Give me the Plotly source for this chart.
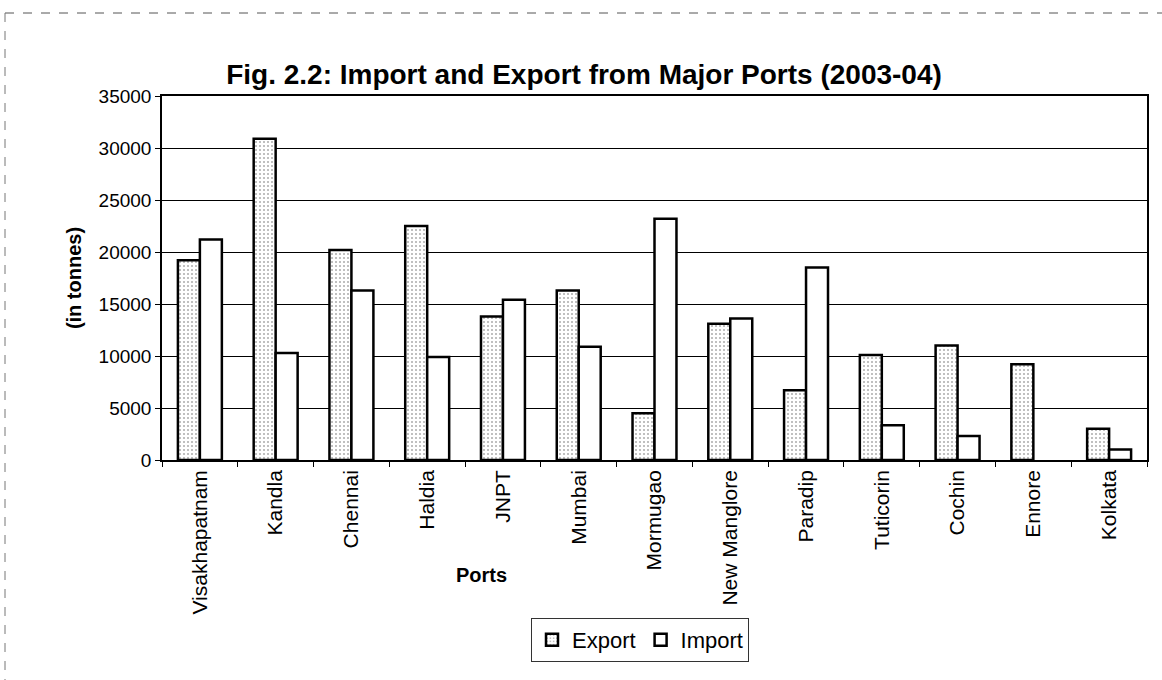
import plotly.graph_objects as go

# Cargo handled at the major ports, 2003-04 (in tonnes)
ports = ["Visakhapatnam", "Kandla", "Chennai", "Haldia", "JNPT", "Mumbai",
         "Mormugao", "New Manglore", "Paradip", "Tuticorin", "Cochin",
         "Ennore", "Kolkata"]
export_vals = [19200, 30900, 20200, 22500, 13800, 16300,
               4500, 13100, 6700, 10100, 11000, 9200, 3000]
# Ennore has no import bar
import_vals = [21200, 10300, 16300, 9900, 15400, 10900,
               23200, 13600, 18500, 3350, 2300, None, 1000]
y_ticks = [0, 5000, 10000, 15000, 20000, 25000, 30000, 35000]
y_tick_text = [str(v) for v in y_ticks]

FONT = "Liberation Sans, Arial, sans-serif"

# plot-area geometry in pixels (used to place the frame, legend and labels)
W, H = 1162, 680
L, R, T, B = 162, 1147, 96, 460


def px_x(px):
    return (px - L) / (R - L)


def px_y(py):
    return (B - py) / (B - T)


fig = go.Figure()
fig.add_trace(go.Bar(
    name="Export", x=ports, y=export_vals,
    marker=dict(color="white",
                line=dict(color="black", width=2.5),
                pattern=dict(shape=".", fgcolor="#555", bgcolor="white",
                             size=4, solidity=0.2, fgopacity=0.5)),
))
fig.add_trace(go.Bar(
    name="Import", x=ports, y=import_vals,
    marker=dict(color="white", line=dict(color="black", width=2.5)),
))

fig.update_layout(
    width=W, height=H,
    margin=dict(l=L, r=W - R, t=T, b=H - B),
    paper_bgcolor="white", plot_bgcolor="white",
    barmode="group", bargap=0.42, bargroupgap=0,
    font=dict(family=FONT, color="black", size=19),
    title=dict(text="<b>Fig. 2.2: Import and Export from Major Ports (2003-04)</b>",
               x=584 / W, xanchor="center", y=1 - 74 / H, yanchor="middle",
               font=dict(size=28, family=FONT, color="black")),
    legend=dict(orientation="h", x=px_x(640), xanchor="center",
                y=px_y(640), yanchor="middle",
                bordercolor="#333", borderwidth=1,
                font=dict(size=22, family=FONT), traceorder="normal",
                itemwidth=30, tracegroupgap=0),
    showlegend=True,
)

fig.update_xaxes(
    type="category", tickson="boundaries", ticks="outside", ticklen=5,
    tickcolor="black", tickangle=-90, showline=True, linecolor="black",
    linewidth=1.5, mirror=True, showgrid=False,
    tickfont=dict(size=21, family=FONT),
)
fig.update_yaxes(
    range=[0, 35000], tickvals=y_ticks, ticktext=y_tick_text,
    ticks="outside", ticklen=5,
    tickcolor="black", showline=True, linecolor="black", linewidth=1.5,
    mirror=True, showgrid=True, gridcolor="black", gridwidth=1,
    zeroline=False, tickfont=dict(size=19, family=FONT),
    title=dict(text="<b>(in tonnes)</b>", standoff=12,
               font=dict(size=20, family=FONT)),
)

# x-axis title, set off to the left of the plot centre
fig.add_annotation(text="<b>Ports</b>", xref="paper", yref="paper",
                   x=px_x(481), y=px_y(575), showarrow=False,
                   xanchor="center", yanchor="middle",
                   font=dict(size=20, family=FONT))

# dashed chart-area frame
fig.add_shape(type="line", xref="paper", yref="paper",
              x0=px_x(5), x1=px_x(1162), y0=px_y(13), y1=px_y(13),
              line=dict(color="#555", width=1, dash="dash"))
fig.add_shape(type="line", xref="paper", yref="paper",
              x0=px_x(5), x1=px_x(5), y0=px_y(13), y1=px_y(680),
              line=dict(color="#777", width=1, dash="dash"))

fig.write_html("out.html")
